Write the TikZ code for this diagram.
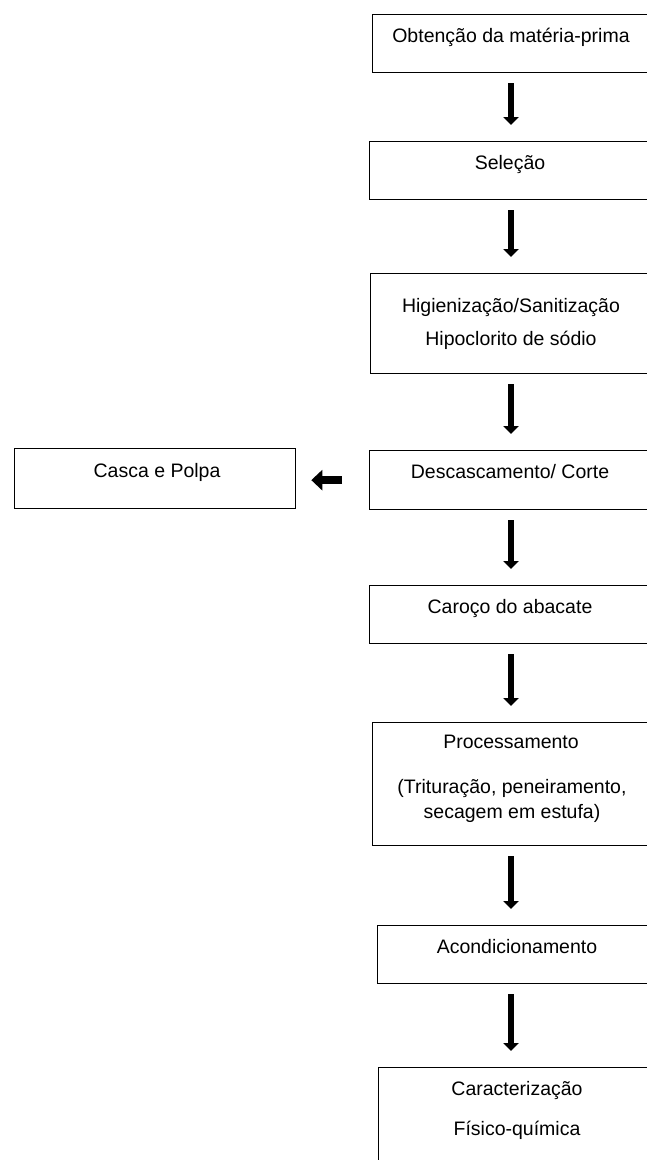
\documentclass[tikz,border=0pt]{standalone}
\usepackage{fontspec}
\setmainfont{Liberation Sans}
\usetikzlibrary{arrows.meta}

\tikzset{
  caixa/.style={draw, line width=1.3pt, anchor=north west, inner sep=0pt},
  rotulo/.style={font=\fontsize{19.5}{25}\selectfont, anchor=base, inner sep=0pt},
  seta/.style={line width=5.5pt, -{Triangle[length=8pt,width=15pt]}, shorten <=10pt, shorten >=16pt},
  setagrossa/.style={line width=7.5pt, -{Triangle[length=11pt,width=20pt]}, shorten <=27pt, shorten >=15pt}
}

\begin{document}
\begin{tikzpicture}[x=1pt,y=1pt,yscale=-1,xscale=1]
\useasboundingbox (0,0) rectangle (646,1160);

%Caixas do fluxograma
\node[caixa, minimum width=290, minimum height=58] (obtencao) at (372,14) {};
\node[caixa, minimum width=293, minimum height=58] (selecao) at (369,141) {};
\node[caixa, minimum width=292, minimum height=100] (higiene) at (370,273) {};
\node[caixa, minimum width=293, minimum height=59] (descasca) at (369,450) {};
\node[caixa, minimum width=281, minimum height=60] (casca) at (14,448) {};
\node[caixa, minimum width=293, minimum height=58] (caroco) at (369,585) {};
\node[caixa, minimum width=290, minimum height=123] (processa) at (372,722) {};
\node[caixa, minimum width=285, minimum height=58] (acondiciona) at (377,925) {};
\node[caixa, minimum width=284, minimum height=110] (caracteriza) at (378,1067) {};

% Text Node
\node[rotulo] (t1) at (511,42) {Obtenção da matéria-prima};
\node[rotulo] (t2) at (510,169) {Seleção};
\node[rotulo] (t3) at (511,312) {Higienização/Sanitização};
\node[rotulo] (t3b) at (511,345) {Hipoclorito de sódio};
\node[rotulo] (t4) at (510,478) {Descascamento/ Corte};
\node[rotulo] (t5) at (157,477) {Casca e Polpa};
\node[rotulo] (t6) at (510,613) {Caroço do abacate};
\node[rotulo] (t7) at (511,748) {Processamento};
\node[rotulo] (t7b) at (512,793) {(Trituração, peneiramento,};
\node[rotulo] (t7c) at (512,818) {secagem em estufa)};
\node[rotulo] (t8) at (517,953) {Acondicionamento};
\node[rotulo] (t9) at (517,1095) {Caracterização};
\node[rotulo] (t9b) at (517,1135) {Físico-química};

%Setas
\coordinate (eixo) at (511,0);
\draw[seta] (obtencao.south -| eixo) -- (selecao.north -| eixo);
\draw[seta] (selecao.south -| eixo) -- (higiene.north -| eixo);
\draw[seta] (higiene.south -| eixo) -- (descasca.north -| eixo);
\draw[seta] (descasca.south -| eixo) -- (caroco.north -| eixo);
\draw[seta] (caroco.south -| eixo) -- (processa.north -| eixo);
\draw[seta] (processa.south -| eixo) -- (acondiciona.north -| eixo);
\draw[seta] (acondiciona.south -| eixo) -- (caracteriza.north -| eixo);
\draw[setagrossa] (descasca.west) -- (descasca.west -| casca.east);

\end{tikzpicture}
\end{document}
